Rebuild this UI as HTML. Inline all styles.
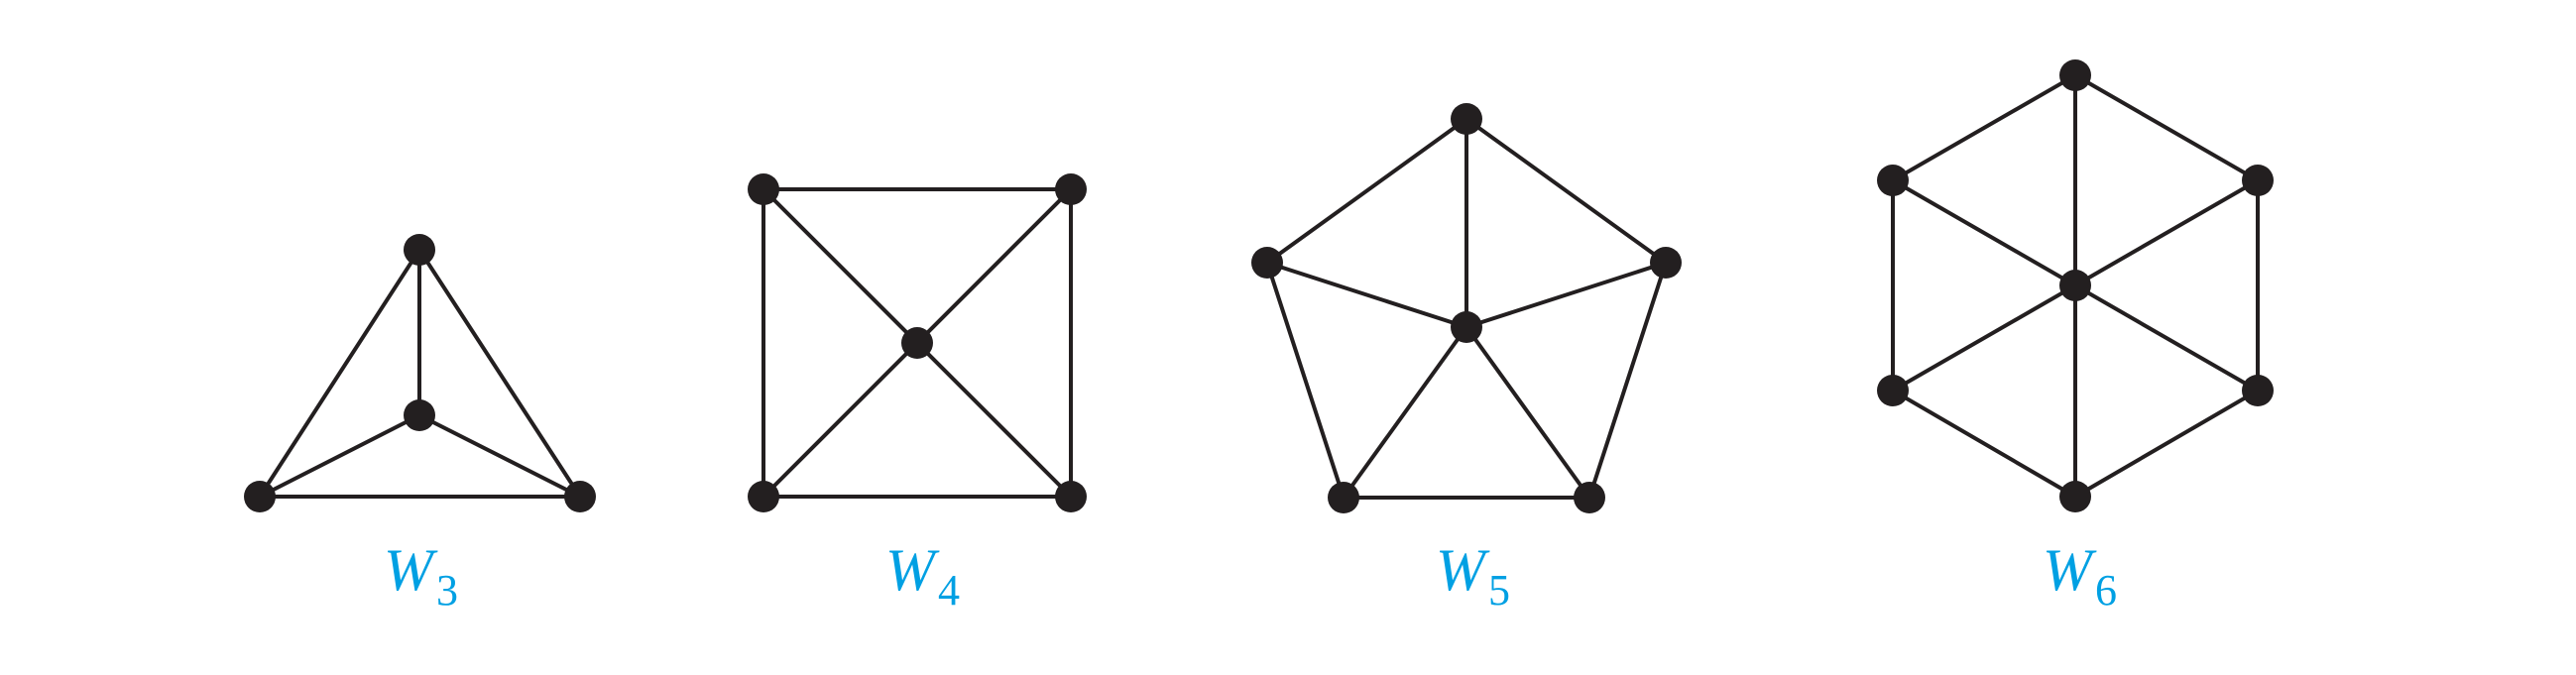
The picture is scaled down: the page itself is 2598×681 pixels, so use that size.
<!DOCTYPE html>
<html><head><style>html,body{margin:0;padding:0;background:#fff;}svg{display:block}</style></head>
<body>
<svg width="2598" height="681" viewBox="0 0 2598 681" xmlns="http://www.w3.org/2000/svg">
<g stroke="#231f20" stroke-width="4" fill="none">
<!-- W3 -->
<line x1="423" y1="252" x2="423" y2="419"/>
<line x1="423" y1="252" x2="262" y2="501"/>
<line x1="423" y1="252" x2="585" y2="501"/>
<line x1="262" y1="501" x2="585" y2="501"/>
<line x1="423" y1="419" x2="262" y2="501"/>
<line x1="423" y1="419" x2="585" y2="501"/>
<!-- W4 -->
<rect x="770" y="191" width="310" height="310"/>
<line x1="770" y1="191" x2="1080" y2="501"/>
<line x1="1080" y1="191" x2="770" y2="501"/>
<!-- W5 -->
<polygon points="1479,120 1680,265 1603,502 1355,502 1278,265"/>
<line x1="1479" y1="330" x2="1479" y2="120"/>
<line x1="1479" y1="330" x2="1680" y2="265"/>
<line x1="1479" y1="330" x2="1603" y2="502"/>
<line x1="1479" y1="330" x2="1355" y2="502"/>
<line x1="1479" y1="330" x2="1278" y2="265"/>
<!-- W6 -->
<polygon points="2093,76 2277,182 2277,394 2093,501 1909,394 1909,182"/>
<line x1="2093" y1="76" x2="2093" y2="501"/>
<line x1="2277" y1="182" x2="1909" y2="394"/>
<line x1="1909" y1="182" x2="2277" y2="394"/>
</g>
<g fill="#231f20">
<circle cx="423" cy="252" r="16"/><circle cx="423" cy="419" r="16"/><circle cx="262" cy="501" r="16"/><circle cx="585" cy="501" r="16"/>
<circle cx="770" cy="191" r="16"/><circle cx="1080" cy="191" r="16"/><circle cx="770" cy="501" r="16"/><circle cx="1080" cy="501" r="16"/><circle cx="925" cy="346" r="16"/>
<circle cx="1479" cy="120" r="16"/><circle cx="1680" cy="265" r="16"/><circle cx="1603" cy="502" r="16"/><circle cx="1355" cy="502" r="16"/><circle cx="1278" cy="265" r="16"/><circle cx="1479" cy="330" r="16"/>
<circle cx="2093" cy="76" r="16"/><circle cx="2277" cy="182" r="16"/><circle cx="2277" cy="394" r="16"/><circle cx="2093" cy="501" r="16"/><circle cx="1909" cy="394" r="16"/><circle cx="1909" cy="182" r="16"/><circle cx="2093" cy="288" r="16"/>
</g>
<g fill="#00a0e3" font-family="Liberation Serif, serif">
<text x="387" y="595" font-size="60" font-style="italic">W</text><text x="440" y="610" font-size="44">3</text>
<text x="893" y="595" font-size="60" font-style="italic">W</text><text x="946" y="610" font-size="44">4</text>
<text x="1448" y="595" font-size="60" font-style="italic">W</text><text x="1501" y="610" font-size="44">5</text>
<text x="2060" y="595" font-size="60" font-style="italic">W</text><text x="2113" y="610" font-size="44">6</text>
</g>
</svg>
</body></html>
